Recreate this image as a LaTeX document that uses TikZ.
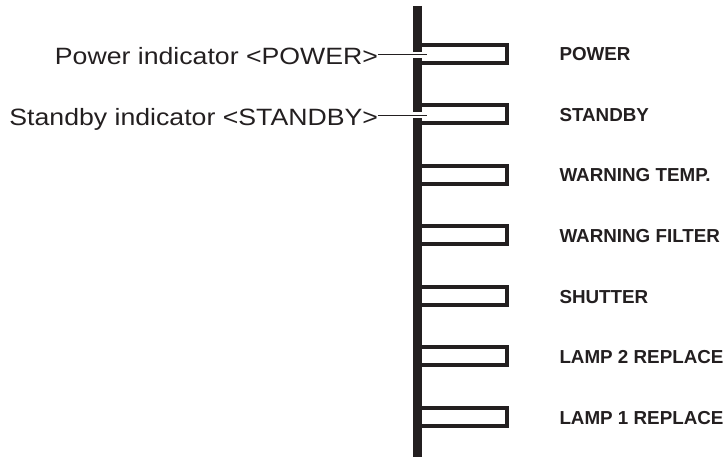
\documentclass[tikz,border=0pt]{standalone}
\usepackage{fontspec}
\setmainfont{Liberation Sans}
\usetikzlibrary{positioning}
\definecolor{ink}{RGB}{35,31,32}

\begin{document}
\begin{tikzpicture}[
		x=1pt, y=-1pt,
		every node/.style={
			inner sep=0pt,
			outer sep=0pt,
			text=ink
		},
		ledbox/.style={
			draw=ink,
			line width=4pt,
			minimum width=88pt,
			minimum height=18.3pt
		},
		ledname/.style={
			font=\bfseries\fontsize{18.8}{21}\selectfont,
			anchor=base west
		},
		callout/.style={
			font=\fontsize{23.6}{26}\selectfont,
			anchor=base east,
			xscale=1.13,
			transform shape
		}
		]
		\useasboundingbox (0,0) rectangle (725,457);
		
		%--------------------------------------------------
		% Indicator lamps
		%--------------------------------------------------
		
		\foreach \name/\txt [count=\i from 0] in {power/POWER, standby/STANDBY, temp/WARNING TEMP., filter/WARNING FILTER, shutter/SHUTTER, lamptwo/LAMP 2 REPLACE, lampone/LAMP 1 REPLACE}
		{
			\node[ledbox] (\name) at (463,53.8+60.5*\i) {};
			\node[ledname] (\name-lbl) at (559.5,61+60.5*\i) {\txt};
		}
		
		%--------------------------------------------------
		% Panel edge
		%--------------------------------------------------
		
		\coordinate (bartop) at (417.2,6);
		\coordinate (barbot) at (417.2,457);
		\draw[ink, line width=9pt] (bartop) -- (barbot);
		
		%--------------------------------------------------
		% Callouts
		%--------------------------------------------------
		
		\node[callout] (power-call) at (378,64.3) {Power indicator <POWER>};
		\node[callout] (standby-call) at (378,125.2) {Standby indicator <STANDBY>};
		
		\foreach \name in {power,standby}
		{
			\coordinate (\name-tip) at ([yshift=-1pt]\name.west -| 427,0);
			\draw[white, line width=6pt] ([xshift=-8pt]\name-tip -| bartop) -- (\name-tip);
			\draw[ink, line width=1.3pt] (\name-call.east |- \name-tip) -- (\name-tip);
		}
		
	\end{tikzpicture}
\end{document}
